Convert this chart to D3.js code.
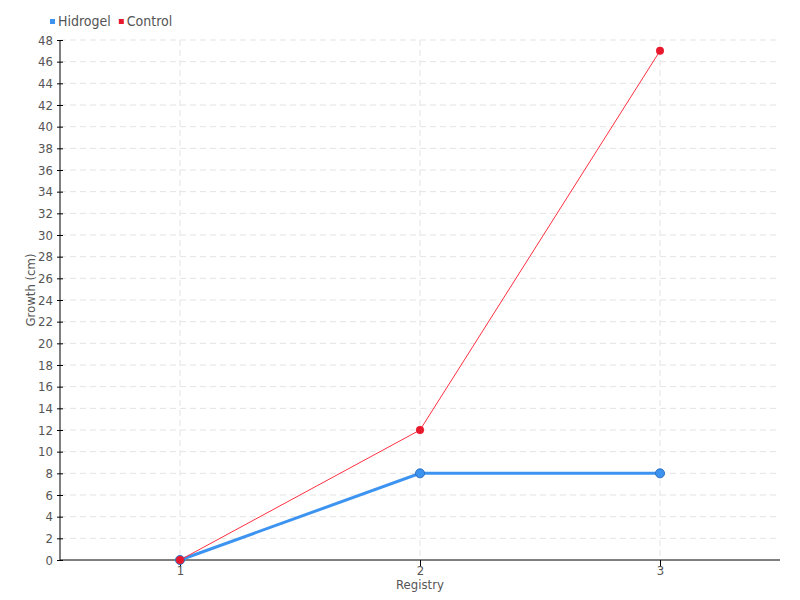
<!DOCTYPE html>
<html>
<head>
<meta charset="utf-8">
<script src="https://cdn.jsdelivr.net/npm/d3@7"></script>
<style>
  body { margin: 0; background: #fff; }
  text { font-family: "DejaVu Sans Condensed", "DejaVu Sans", sans-serif; font-stretch: condensed; fill: #555; }
</style>
</head>
<body>
<div id="chart"></div>
<script>
let registries = [1, 2, 3];
let hidrogel = [0, 8, 8];
let control = [0, 12, 47];
let yTicks = d3.range(0, 49, 2);

let margin = {top: 40, right: 20, bottom: 40, left: 60};
let width = 800 - margin.left - margin.right;
let height = 600 - margin.top - margin.bottom;
let font = '"DejaVu Sans Condensed", "DejaVu Sans", sans-serif';

let svg = d3.select('#chart')
    .append('svg')
    .attr('width', 800)
    .attr('height', 600);

let g = svg.append('g').attr('transform', 'translate(' + margin.left + ',' + margin.top + ')');

let x = d3.scalePoint().domain(registries).range([0, width]).padding(0.5);
let y = d3.scaleLinear().domain([0, 48]).range([height, 0]);

// grid
g.append('g').selectAll('line').data(yTicks.slice(1)).enter().append('line')
    .attr('x1', 0).attr('x2', width)
    .attr('y1', d => y(d)).attr('y2', d => y(d))
    .attr('stroke', '#e3e3e3').attr('stroke-dasharray', '6,4');
g.append('g').selectAll('line').data(registries).enter().append('line')
    .attr('x1', d => x(d)).attr('x2', d => x(d))
    .attr('y1', 0).attr('y2', height)
    .attr('stroke', '#e3e3e3').attr('stroke-dasharray', '6,4');

// Y axis
let yAxis = g.append('g').call(d3.axisLeft(y).tickValues(yTicks).tickSize(3).tickPadding(4));
yAxis.selectAll('.tick line').attr('x2', 3).attr('x1', -3);
yAxis.select('.domain').attr('d', 'M0,0V' + height);
// X axis
let xAxis = g.append('g').attr('transform', 'translate(0,' + height + ')')
    .call(d3.axisBottom(x).tickSize(6).tickPadding(0));
xAxis.select('.domain').attr('d', 'M0,0H' + width);
g.selectAll('.domain').attr('stroke', '#000');
g.selectAll('.tick line').attr('stroke', '#000');
g.selectAll('.tick text').attr('font-size', '13px')
    .style('font-family', font).style('font-stretch', 'condensed').attr('fill', '#555');

// axis labels
g.append('text')
    .attr('transform', 'rotate(-90)')
    .attr('x', -height / 2 + 10)
    .attr('y', -25)
    .attr('text-anchor', 'middle')
    .attr('font-size', '13px')
    .text('Growth (cm)');
g.append('text')
    .attr('x', width / 2)
    .attr('y', height + 29)
    .attr('text-anchor', 'middle')
    .attr('font-size', '13px')
    .text('Registry');

let line = d3.line().x((d, i) => x(registries[i])).y(d => y(d));

// Hidrogel
g.append('path').datum(hidrogel)
    .attr('d', line).attr('fill', 'none')
    .attr('stroke', '#3d94f0').attr('stroke-width', 3);
g.append('g').selectAll('circle').data(hidrogel).enter().append('circle')
    .attr('cx', (d, i) => x(registries[i])).attr('cy', d => y(d))
    .attr('r', 4.5).attr('fill', '#3d94f0').attr('stroke', '#2a6fc0').attr('stroke-width', 1);

// Control
g.append('path').datum(control)
    .attr('d', line).attr('fill', 'none')
    .attr('stroke', '#ff3040').attr('stroke-width', 1);
g.append('g').selectAll('circle').data(control).enter().append('circle')
    .attr('cx', (d, i) => x(registries[i])).attr('cy', d => y(d))
    .attr('r', 4).attr('fill', '#e8192c');

// legend
let legendItems = [{name: 'Hidrogel', color: '#3d94f0'}, {name: 'Control', color: '#e8192c'}];
let legend = svg.append('g').attr('transform', 'translate(50,22)');
let lx = 0;
legendItems.forEach(function (item) {
    legend.append('rect').attr('x', lx).attr('y', -3).attr('width', 5).attr('height', 5).attr('fill', item.color);
    let t = legend.append('text').attr('x', lx + 8).attr('y', 4).attr('font-size', '14px').text(item.name);
    lx += 8 + t.node().getComputedTextLength() + 8;
});
</script>
</body>
</html>
